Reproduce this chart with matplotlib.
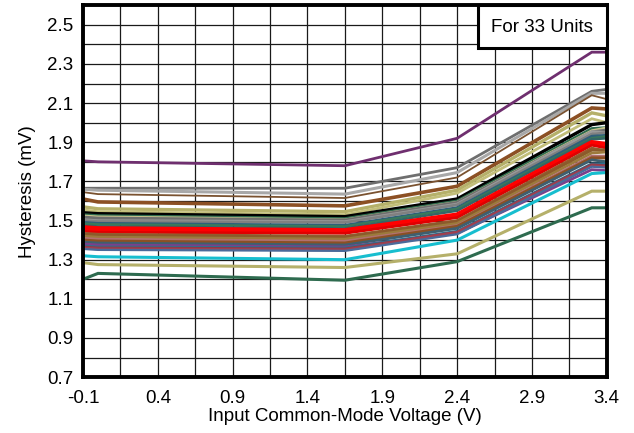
import matplotlib
matplotlib.use("Agg")
import matplotlib.pyplot as plt
from matplotlib.patches import Rectangle
import numpy as np

plt.rcParams['font.family'] = ['Liberation Sans', 'DejaVu Sans']

vcm = [-0.1, 0.0, 1.65, 2.4, 3.3, 3.4]

units = [
    ("#6F2F6F", 2.0, [1.805, 1.800, 1.780, 1.920, 2.360, 2.360]),
    ("#6E6E6E", 2.0, [1.665, 1.665, 1.665, 1.770, 2.160, 2.170]),
    ("#A8A8A8", 2.2, [1.660, 1.655, 1.635, 1.745, 2.150, 2.150]),
    ("#7A5230", 1.3, [1.645, 1.635, 1.615, 1.720, 2.140, 2.120]),
    ("#8C5024", 2.6, [1.610, 1.595, 1.575, 1.675, 2.075, 2.070]),
    ("#B5B06A", 2.4, [1.570, 1.560, 1.545, 1.655, 2.050, 2.035]),
    ("#C2BE7A", 2.0, [1.555, 1.545, 1.530, 1.640, 2.020, 2.000]),
    ("#000000", 2.4, [1.540, 1.535, 1.520, 1.610, 1.990, 2.000]),
    ("#2E6B4F", 2.0, [1.530, 1.525, 1.510, 1.600, 1.970, 1.975]),
    ("#C8C48C", 1.6, [1.525, 1.520, 1.505, 1.595, 1.960, 1.975]),
    ("#6E6E6E", 2.8, [1.515, 1.510, 1.500, 1.590, 1.950, 1.960]),
    ("#9A9A9A", 1.8, [1.505, 1.500, 1.495, 1.585, 1.955, 1.950]),
    ("#808080", 2.0, [1.500, 1.495, 1.490, 1.580, 1.940, 1.950]),
    ("#2F5F7A", 2.2, [1.490, 1.485, 1.475, 1.565, 1.930, 1.935]),
    ("#3A7A5A", 1.8, [1.485, 1.480, 1.470, 1.560, 1.920, 1.930]),
    ("#336666", 1.8, [1.475, 1.470, 1.460, 1.550, 1.915, 1.920]),
    ("#FF0000", 3.2, [1.465, 1.460, 1.450, 1.530, 1.900, 1.890]),
    ("#FF0000", 2.4, [1.455, 1.450, 1.440, 1.520, 1.890, 1.880]),
    ("#E00000", 2.0, [1.445, 1.440, 1.435, 1.515, 1.885, 1.870]),
    ("#9A5A30", 2.0, [1.435, 1.430, 1.420, 1.500, 1.870, 1.855]),
    ("#8B5A2B", 2.2, [1.430, 1.425, 1.415, 1.495, 1.860, 1.860]),
    ("#9C7A3C", 2.0, [1.420, 1.415, 1.405, 1.485, 1.845, 1.850]),
    ("#B07070", 1.8, [1.410, 1.405, 1.395, 1.475, 1.830, 1.830]),
    ("#8C5024", 2.2, [1.400, 1.395, 1.385, 1.470, 1.820, 1.820]),
    ("#3F5F6F", 2.0, [1.390, 1.385, 1.375, 1.460, 1.810, 1.800]),
    ("#7B3F8B", 2.0, [1.380, 1.375, 1.365, 1.435, 1.760, 1.755]),
    ("#2F6F8F", 2.0, [1.370, 1.365, 1.360, 1.445, 1.790, 1.790]),
    ("#8B3A4A", 2.0, [1.365, 1.360, 1.355, 1.440, 1.785, 1.780]),
    ("#A0404F", 2.0, [1.360, 1.355, 1.350, 1.440, 1.780, 1.775]),
    ("#4A6A9A", 1.6, [1.355, 1.350, 1.345, 1.430, 1.775, 1.770]),
    ("#17BECF", 2.2, [1.320, 1.315, 1.300, 1.400, 1.740, 1.745]),
    ("#B5B06A", 2.2, [1.285, 1.275, 1.260, 1.330, 1.650, 1.650]),
    ("#2E6B4F", 2.2, [1.200, 1.230, 1.195, 1.290, 1.565, 1.565]),
]

x_ticks = [-0.1, 0.4, 0.9, 1.4, 1.9, 2.4, 2.9, 3.4]
y_ticks = [0.7, 0.9, 1.1, 1.3, 1.5, 1.7, 1.9, 2.1, 2.3, 2.5]

fig = plt.figure(figsize=(6.34, 4.33), dpi=100)
ax = fig.add_axes([0.131, 0.129, 0.826, 0.859])

ax.set_xlim(-0.1, 3.4)
ax.set_ylim(0.7, 2.6)

for xg in np.arange(-0.1, 3.4001, 0.25):
    ax.axvline(xg, color="#1a1a1a", lw=0.9, zorder=1)
for yg in np.arange(0.7, 2.6001, 0.1):
    ax.axhline(yg, color="#1a1a1a", lw=0.9, zorder=1)

for i, (c, lw, vals) in enumerate(units):
    ax.plot(vcm, vals, color=c, lw=lw, solid_joinstyle="miter", zorder=2 + i * 0.01)

ax.set_xticks(x_ticks)
ax.set_xticklabels([f"{v:.1f}" for v in x_ticks])
ax.set_yticks(y_ticks)
ax.set_yticklabels([f"{v:.1f}" for v in y_ticks])
ax.tick_params(axis="x", length=0, labelsize=13.5, pad=9)
ax.tick_params(axis="y", length=0, labelsize=13.5, pad=7)

for s in ax.spines.values():
    s.set_linewidth(2.8)
    s.set_zorder(10)

ax.set_xlabel("Input Common-Mode Voltage (V)", fontsize=13.5, labelpad=1)
ax.set_ylabel("Hysteresis (mV)", fontsize=13.5, labelpad=8)

ax.add_patch(Rectangle((0.754, 0.884), 0.246, 0.116, transform=ax.transAxes,
                       facecolor="white", edgecolor="black", lw=2.2, zorder=11, clip_on=False))
ax.text(0.877, 0.941, "For 33 Units", transform=ax.transAxes, ha="center", va="center",
        fontsize=13.5, zorder=12)

fig.savefig("out.png", dpi=100)
